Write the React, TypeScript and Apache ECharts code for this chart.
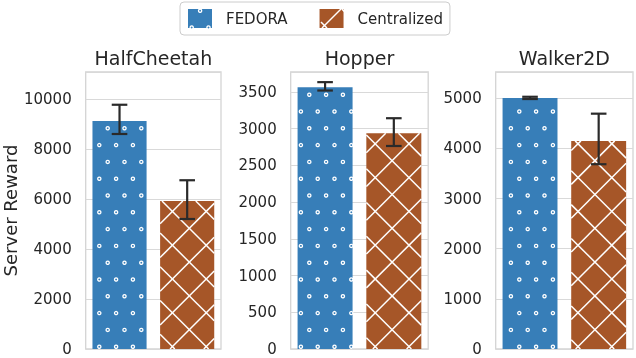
import React, { useEffect, useRef } from 'react';
import * as echarts from 'echarts';

// ---- data ----
const environments = ['HalfCheetah', 'Hopper', 'Walker2D'];
const methods = ['FEDORA', 'Centralized'];
const fedoraMean = [9120, 3563, 5005];
const fedoraLow = [8600, 3518, 4985];
const fedoraHigh = [9770, 3632, 5030];
const centralizedMean = [5920, 2936, 4150];
const centralizedLow = [5200, 2763, 3685];
const centralizedHigh = [6750, 3141, 4693];
const yMax = [11080, 3770, 5524];
const yStep = [2000, 500, 1000];

// ---- style ----
const BLUE = '#377eb8';
const BROWN = '#a65628';
const TEXT = '#262626';
const FONT = 'DejaVu Sans';
const FRAME = '#d4d4d4';
const GRIDS = [
  { left: 85.7, width: 135.3 },
  { left: 290.7, width: 137.5 },
  { left: 495.7, width: 137.3 },
];

// global hatch lattices (figure pixel space)
const DOT_X0 = 107.7, DOT_Y0 = 128.3, DOT_P = 16.8;
const HX = 189.3, HY = 228.3, HD = 33.8;

function dotPattern(x0: number, y0: number, x1: number, y1: number, fill: string, z?: number) {
  const out: any[] = [];
  const kMin = Math.ceil((y0 - DOT_Y0) / DOT_P);
  const kMax = Math.floor((y1 - DOT_Y0) / DOT_P);
  for (let k = kMin; k <= kMax; k++) {
    const cy = DOT_Y0 + k * DOT_P;
    const base = DOT_X0 + (k % 2 !== 0 ? DOT_P / 2 : 0);
    const jMin = Math.ceil((x0 - base) / DOT_P);
    const jMax = Math.floor((x1 - base) / DOT_P);
    for (let j = jMin; j <= jMax; j++) {
      const el: any = {
        type: 'circle',
        shape: { cx: base + j * DOT_P, cy, r: 1.6 },
        style: { fill, stroke: '#ffffff', lineWidth: 1.3 },
      };
      if (z != null) el.z = z;
      out.push(el);
    }
  }
  return out;
}

function hatchPattern(x0: number, y0: number, x1: number, y1: number, z?: number) {
  const out: any[] = [];
  const st = { stroke: '#ffffff', lineWidth: 1.5 };
  const push = (shape: any) => {
    const el: any = { type: 'line', shape, style: st };
    if (z != null) el.z = z;
    out.push(el);
  };
  const c1 = HY - HX; // y = x + c
  for (let k = Math.ceil((y0 - x1 - c1) / HD); k <= Math.floor((y1 - x0 - c1) / HD); k++) {
    const c = c1 + k * HD;
    const xa = Math.max(x0, y0 - c), xb = Math.min(x1, y1 - c);
    if (xb > xa) push({ x1: xa, y1: xa + c, x2: xb, y2: xb + c });
  }
  const c2 = HY + HX; // y = -x + c
  for (let k = Math.ceil((x0 + y0 - c2) / HD); k <= Math.floor((x1 + y1 - c2) / HD); k++) {
    const c = c2 + k * HD;
    const xa = Math.max(x0, c - y1), xb = Math.min(x1, c - y0);
    if (xb > xa) push({ x1: xa, y1: c - xa, x2: xb, y2: c - xb });
  }
  return out;
}

function makeRender(kind: 'dots' | 'hatch', color: string) {
  return (params: any, api: any) => {
    const cat = api.value(0);
    const val = api.value(1);
    const lo = api.value(2);
    const hi = api.value(3);
    const band = api.size([1, 0])[0];
    const w = band * 0.8;
    const top = api.coord([cat, val]);
    const base = api.coord([cat, 0]);
    const x0 = top[0] - w / 2, x1 = top[0] + w / 2, y0 = top[1], y1 = base[1];
    const pattern = kind === 'dots' ? dotPattern(x0, y0, x1, y1, color) : hatchPattern(x0, y0, x1, y1);
    const pLo = api.coord([cat, lo]);
    const pHi = api.coord([cat, hi]);
    const cap = 7.8;
    const eb = { stroke: '#2a2a2a', lineWidth: 2.2 };
    return {
      type: 'group',
      children: [
        { type: 'rect', shape: { x: x0, y: y0, width: w, height: y1 - y0 }, style: { fill: color } },
        ...pattern,
        { type: 'line', shape: { x1: pLo[0], y1: pLo[1], x2: pHi[0], y2: pHi[1] }, style: eb },
        { type: 'line', shape: { x1: pLo[0] - cap, y1: pLo[1], x2: pLo[0] + cap, y2: pLo[1] }, style: eb },
        { type: 'line', shape: { x1: pHi[0] - cap, y1: pHi[1], x2: pHi[0] + cap, y2: pHi[1] }, style: eb },
      ],
    };
  };
}

export default function App() {
  const ref = useRef<HTMLDivElement>(null);
  useEffect(() => {
    if (!ref.current) return;
    const chart = echarts.init(ref.current, null, { renderer: 'svg' });
    const grid = GRIDS.map((g) => ({
      left: g.left, width: g.width, top: 72, height: 277,
      show: true, borderColor: FRAME, borderWidth: 1.3, backgroundColor: 'transparent',
    }));
    const xAxis = environments.map((env, i) => ({
      type: 'category', gridIndex: i, data: methods, position: 'top',
      name: env, nameLocation: 'middle', nameGap: 5,
      nameTextStyle: { fontSize: 19, color: TEXT, fontFamily: FONT },
      axisLine: { show: false }, axisTick: { show: false }, axisLabel: { show: false },
      splitLine: { show: false },
    }));
    const yAxis = environments.map((_, i) => ({
      type: 'value', gridIndex: i, min: 0, max: yMax[i], interval: yStep[i],
      axisLine: { show: false }, axisTick: { show: false },
      axisLabel: {
        fontSize: 15, color: TEXT, fontFamily: FONT, margin: 14, showMaxLabel: false,
        formatter: (v: number) => String(v),
      },
      splitLine: { show: true, lineStyle: { color: '#d9d9d9', width: 1.2 } },
      name: i === 0 ? 'Server Reward' : '',
      nameLocation: 'middle', nameGap: 66,
      nameTextStyle: { fontSize: 18, color: TEXT, fontFamily: FONT },
    }));
    const series: any[] = [];
    environments.forEach((_, i) => {
      series.push({
        type: 'custom', name: methods[0], xAxisIndex: i, yAxisIndex: i, clip: false,
        itemStyle: { color: BLUE }, encode: { x: 0, y: 1 },
        data: [[0, fedoraMean[i], fedoraLow[i], fedoraHigh[i]]],
        renderItem: makeRender('dots', BLUE),
      });
      series.push({
        type: 'custom', name: methods[1], xAxisIndex: i, yAxisIndex: i, clip: false,
        itemStyle: { color: BROWN }, encode: { x: 0, y: 1 },
        data: [[1, centralizedMean[i], centralizedLow[i], centralizedHigh[i]]],
        renderItem: makeRender('hatch', BROWN),
      });
    });
    const legendPatterns = [
      ...dotPattern(188, 9, 212, 28, BLUE, 100),
      ...hatchPattern(321, 9, 345, 28, 100),
    ];
    chart.setOption({
      animation: false,
      textStyle: { fontFamily: FONT },
      grid, xAxis, yAxis, series,
      legend: {
        data: methods, left: 180, top: 2, padding: [7, 7, 7, 8],
        itemWidth: 24, itemHeight: 19, itemGap: 32, icon: 'rect',
        borderColor: '#cccccc', borderWidth: 1, borderRadius: 4, backgroundColor: '#ffffff',
        selectedMode: false,
        textStyle: { fontSize: 15, color: TEXT, fontFamily: FONT, padding: [0, 0, 0, 9] },
      },
      graphic: legendPatterns,
    });
    return () => chart.dispose();
  }, []);
  return <div ref={ref} style={{ position: 'fixed', left: 0, top: 0, width: 636, height: 358 }} />;
}
